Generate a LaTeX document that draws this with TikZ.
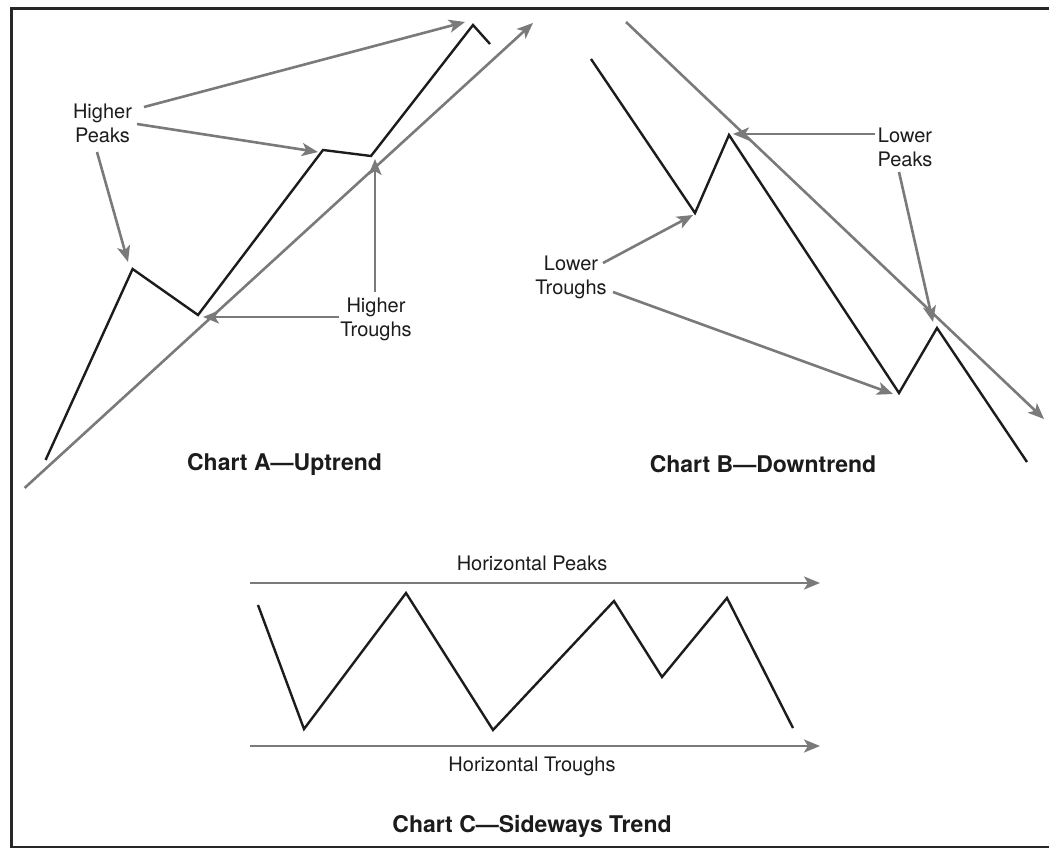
\documentclass[tikz,border=0pt]{standalone}
\usepackage{fontspec}
\setmainfont{TeX Gyre Heros}
\usetikzlibrary{arrows.meta}
\definecolor{agray}{RGB}{122,122,122}
\definecolor{ink}{RGB}{28,28,28}
\tikzset{
  price/.style={draw=ink, line width=2.4pt, line join=miter},
  garrow/.style={draw=agray, line width=2.6pt, -{Stealth[length=16pt,width=13pt,inset=4pt]}},
  lbl/.style={text=ink, align=center, inner sep=0pt, font=\fontsize{20}{24}\selectfont},
  title/.style={text=ink, inner sep=0pt, font=\fontsize{23}{27}\selectfont\bfseries},
  frame/.style={draw=ink!95, line width=3pt}
}
\begin{document}
\begin{tikzpicture}[x=1pt,y=-1pt]
\useasboundingbox (0,0) rectangle (1049,848);
\clip (0,0) rectangle (1049,848);
\fill[white] (0,0) rectangle (1049,848);
\draw[frame] (1060,9) -- (11,9) -- (11,847) -- (1060,847);

% ---------- Chart A ----------
\coordinate (a0) at (45.6,460);
\coordinate (a1) at (132.6,269);
\coordinate (a2) at (198,315);
\coordinate (a3) at (323,150);
\coordinate (a4) at (371,156);
\coordinate (a5) at (473,25);
\coordinate (a6) at (490,44);
\draw[price] (a0) -- (a1) -- (a2) -- (a3) -- (a4) -- (a5) -- (a6);

\coordinate (ta0) at (24.6,488);
\coordinate (ta1) at (533,23);
\draw[garrow] (ta0) -- (ta1);

\node[lbl] (hp) at (102.5,123) {Higher\\Peaks};
\node[lbl] (ht) at (376,319.5) {Higher\\Troughs};
\coordinate (hp1) at (144,107);
\coordinate (hp2) at (137,124);
\coordinate (hp3) at (97,152);
\coordinate (ht1) at (339,317);
\coordinate (ht2) at (375,292);
\draw[garrow] (hp1) -- (465,22) coordinate (hpt1);
\draw[garrow] (hp2) -- (318,152) coordinate (hpt2);
\draw[garrow] (hp3) -- (128,262) coordinate (hpt3);
\draw[garrow] (ht1) -- (203,317) coordinate (htt1);
\draw[garrow] (ht2) -- (375,159) coordinate (htt2);

\node[title] (ta) at (284.5,464) {Chart A—Uptrend};

% ---------- Chart B ----------
\coordinate (b0) at (591,59);
\coordinate (b1) at (695,213);
\coordinate (b2) at (729,135);
\coordinate (b3) at (899,393);
\coordinate (b4) at (937,328);
\coordinate (b5) at (1027,462);
\draw[price] (b0) -- (b1) -- (b2) -- (b3) -- (b4) -- (b5);

\coordinate (tb0) at (626,22);
\coordinate (tb1) at (1044,419);
\draw[garrow] (tb0) -- (tb1);

\node[lbl] (lp) at (905,147.5) {Lower\\Peaks};
\node[lbl] (lt) at (571,277) {Lower\\Troughs};
\coordinate (lp1) at (875,134);
\coordinate (lp2) at (899,172);
\coordinate (lt1) at (603,263);
\coordinate (lt2) at (613,292);
\draw[garrow] (lp1) -- (733,134) coordinate (lpt1);
\draw[garrow] (lp2) -- (933,322) coordinate (lpt2);
\draw[garrow] (lt1) -- (693,215) coordinate (ltt1);
\draw[garrow] (lt2) -- (893,394) coordinate (ltt2);

\node[title] (tbt) at (763,464) {Chart B—Downtrend};

% ---------- Chart C ----------
\coordinate (c0) at (258,605);
\coordinate (c1) at (304,729);
\coordinate (c2) at (406,593);
\coordinate (c3) at (493,730);
\coordinate (c4) at (614,601);
\coordinate (c5) at (662,677);
\coordinate (c6) at (727,598);
\coordinate (c7) at (793,728);
\draw[price] (c0) -- (c1) -- (c2) -- (c3) -- (c4) -- (c5) -- (c6) -- (c7);

\coordinate (hz0) at (250,583);
\coordinate (hz1) at (820,583);
\coordinate (hz2) at (250,746);
\coordinate (hz3) at (820,746);
\draw[garrow] (hz0) -- (hz1);
\draw[garrow] (hz2) -- (hz3);

\node[lbl] (hzp) at (532,563) {Horizontal Peaks};
\node[lbl] (hzt) at (532,766) {Horizontal Troughs};
\node[title] (tc) at (532,826) {Chart C—Sideways Trend};
\end{tikzpicture}
\end{document}
